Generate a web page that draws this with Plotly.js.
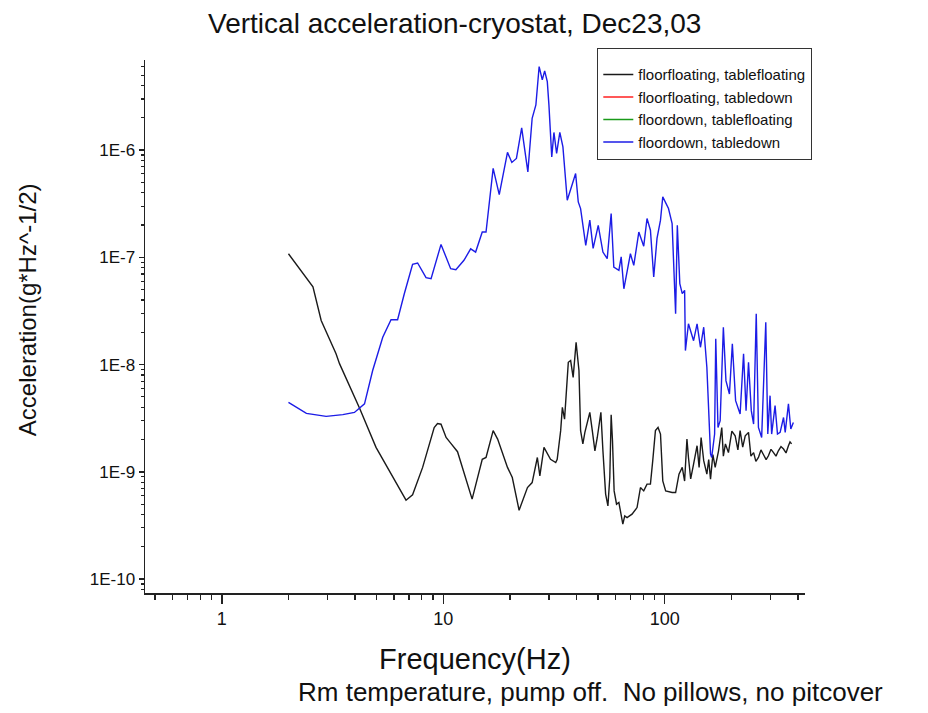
<!DOCTYPE html>
<html>
<head>
<meta charset="utf-8">
<script src="https://cdn.plot.ly/plotly-3.0.1.min.js"></script>
<style>html,body{margin:0;padding:0;background:#fff;}#chart{width:928px;height:713px;}</style>
</head>
<body>
<div id="chart"></div>
<script>
// Frequencies (Hz) and acceleration values
const freqFloatFloat = [2.0, 2.45, 2.58, 2.81, 3.28, 3.40, 4.19, 4.97, 5.91, 6.79, 7.27, 8.07, 9.10, 9.42, 9.77, 10.3, 10.8, 11.6, 13.5, 15.0, 15.6, 16.8, 17.6, 19.5, 20.5, 22.0, 24.0, 25.2, 26.6, 27.3, 28.5, 30.5, 32.2, 32.7, 33.9, 34.5, 35.3, 36.7, 37.6, 38.6, 39.8, 41.0, 41.7, 42.7, 43.6, 45.1, 45.9, 47.1, 48.4, 49.6, 51.5, 52.6, 54.1, 55.4, 56.5, 57.3, 58.1, 59.1, 60.6, 62.1, 63.4, 64.7, 66.0, 67.6, 71.2, 75.0, 77.7, 80.4, 83.2, 86.2, 88.3, 90.8, 93.3, 95.7, 98.0, 101, 108, 112, 116, 120, 123, 126, 128, 131, 135, 140, 143, 146, 150, 155, 158, 161, 165, 169, 175, 181, 184, 188, 194, 201, 208, 214, 219, 225, 231, 239, 245, 252, 258, 265, 272, 279, 287, 294, 302, 310, 318, 326, 335, 344, 353, 362, 368, 374];
const accFloatFloat = [1.08e-7, 6.2e-8, 5.3e-8, 2.58e-8, 1.26e-8, 1.02e-8, 3.92e-9, 1.69e-9, 8.85e-10, 5.44e-10, 6.1e-10, 1.10e-9, 2.59e-9, 2.82e-9, 2.78e-9, 2.09e-9, 1.85e-9, 1.54e-9, 5.56e-10, 1.31e-9, 1.36e-9, 2.42e-9, 2.02e-9, 1.10e-9, 8.85e-10, 4.38e-10, 7.13e-10, 7.94e-10, 1.36e-9, 9.18e-10, 1.69e-9, 1.31e-9, 1.22e-9, 1.31e-9, 2.42e-9, 3.99e-9, 3.10e-9, 1.05e-8, 1.09e-8, 7.6e-9, 1.61e-8, 8.8e-9, 2.42e-9, 1.82e-9, 2.33e-9, 3.21e-9, 3.58e-9, 2.42e-9, 1.57e-9, 2.09e-9, 3.58e-9, 1.57e-9, 6.2e-10, 4.81e-10, 8.85e-10, 3.41e-9, 1.95e-9, 6.64e-10, 4.99e-10, 5.17e-10, 4.17e-10, 3.25e-10, 3.88e-10, 3.74e-10, 4.03e-10, 4.64e-10, 7.13e-10, 6.64e-10, 7.67e-10, 7.67e-10, 1.27e-9, 2.42e-9, 2.59e-9, 2.25e-9, 8.24e-10, 6.64e-10, 6.41e-10, 6.41e-10, 9.5e-10, 1.10e-9, 8.2e-10, 2.02e-9, 1.36e-9, 8.6e-10, 1.18e-9, 1.75e-9, 1.10e-9, 2.09e-9, 1.27e-9, 9.5e-10, 1.3e-9, 8.55e-10, 1.45e-9, 1.10e-9, 1.57e-9, 2.59e-9, 1.4e-9, 1.82e-9, 1.51e-9, 2.4e-9, 2.17e-9, 1.6e-9, 2.42e-9, 1.7e-9, 2.17e-9, 2.33e-9, 1.4e-9, 1.51e-9, 1.25e-9, 1.36e-9, 1.6e-9, 1.47e-9, 1.3e-9, 1.41e-9, 1.62e-9, 1.51e-9, 1.4e-9, 1.57e-9, 1.72e-9, 1.63e-9, 1.5e-9, 1.75e-9, 1.9e-9, 1.82e-9];

// these two series have no visible marks in the picture (legend only)
const freqFloatDown = [null];
const accFloatDown = [null];
const freqDownFloat = [null];
const accDownFloat = [null];

const freqDownDown = [2.0, 2.41, 2.96, 3.52, 3.97, 4.41, 4.80, 5.33, 5.81, 6.22, 6.67, 7.27, 7.66, 8.36, 8.81, 9.77, 10.8, 11.4, 12.4, 13.3, 14.0, 15.0, 15.6, 16.2, 16.8, 17.9, 19.5, 20.4, 21.4, 22.6, 24.1, 25.2, 26.2, 27.1, 28.0, 28.7, 29.5, 30.0, 30.9, 31.6, 32.5, 33.6, 34.7, 36.3, 38.0, 39.6, 40.7, 41.7, 44.0, 45.9, 47.5, 50.1, 52.6, 55.0, 57.3, 58.9, 62.1, 63.6, 65.4, 67.6, 70.0, 72.5, 76.4, 80.4, 83.2, 86.2, 89.2, 92.3, 95.7, 98.0, 101, 104, 108, 112, 114, 117, 120, 123, 124, 128, 135, 140, 145, 150, 155, 161, 163, 168, 170, 174, 178, 184, 189, 196, 202, 209, 219, 227, 233, 239, 246, 252, 259, 265, 274, 286, 292, 299, 304, 315, 323, 332, 344, 350, 362, 371, 381];
const accDownDown = [4.45e-9, 3.51e-9, 3.29e-9, 3.41e-9, 3.58e-9, 4.30e-9, 8.8e-9, 1.80e-8, 2.62e-8, 2.62e-8, 4.58e-8, 8.61e-8, 8.85e-8, 6.46e-8, 6.32e-8, 1.32e-7, 7.83e-8, 7.67e-8, 9.38e-8, 1.20e-7, 1.12e-7, 1.72e-7, 1.72e-7, 3.29e-7, 6.75e-7, 3.85e-7, 9.52e-7, 7.67e-7, 8.36e-7, 1.61e-6, 6.27e-7, 1.98e-6, 2.64e-6, 6.01e-6, 4.51e-6, 5.47e-6, 4.35e-6, 2.64e-6, 8.65e-7, 1.46e-6, 9.31e-7, 1.46e-6, 1.07e-6, 3.41e-7, 4.54e-7, 6.05e-7, 3.29e-7, 2.85e-7, 1.29e-7, 2.22e-7, 1.21e-7, 1.99e-7, 1.12e-7, 9.72e-8, 2.56e-7, 8.11e-8, 7.57e-8, 1.01e-7, 5.09e-8, 7.30e-8, 1.08e-7, 8.41e-8, 1.72e-7, 1.27e-7, 2.30e-7, 1.79e-7, 6.55e-8, 1.50e-7, 2.22e-7, 3.66e-7, 3.18e-7, 2.85e-7, 2.06e-7, 2.98e-8, 1.99e-7, 5.67e-8, 4.58e-8, 4.92e-8, 1.35e-8, 2.40e-8, 1.67e-8, 2.40e-8, 1.45e-8, 2.23e-8, 9.44e-9, 1.47e-9, 1.36e-9, 2.25e-9, 1.74e-8, 2.59e-9, 3.0e-9, 2.23e-8, 7.08e-9, 5.32e-9, 1.56e-8, 4.61e-9, 3.46e-9, 1.26e-8, 3.72e-9, 1.05e-8, 3.72e-9, 2.79e-9, 2.98e-8, 2.59e-9, 2.09e-9, 2.48e-8, 2.25e-9, 5.13e-9, 2.25e-9, 4.14e-9, 2.25e-9, 2.33e-9, 3.21e-9, 2.33e-9, 4.30e-9, 2.51e-9, 2.89e-9];

const seriesNames = ["floorfloating, tablefloating", "floorfloating, tabledown", "floordown, tablefloating", "floordown, tabledown"];
const seriesColors = ["#1a1a1a", "#ff2020", "#1a9a1a", "#1c1ce6"];

const xMajorTicks = [1, 10, 100];
const xMajorLabels = ["1", "10", "100"];
const xMinorTicks = [0.5, 0.6, 0.7, 0.8, 0.9, 2, 3, 4, 5, 6, 7, 8, 9, 20, 30, 40, 50, 60, 70, 80, 90, 200, 300, 400];
const yMajorTicks = [1e-10, 1e-9, 1e-8, 1e-7, 1e-6];
const yMajorLabels = ["1E-10", "1E-9", "1E-8", "1E-7", "1E-6"];
const yMinorTicks = [];
[1e-11, 1e-10, 1e-9, 1e-8, 1e-7, 1e-6].forEach(d => { for (let k = 2; k <= 9; k++) yMinorTicks.push(k * d); });

const xs = [freqFloatFloat, freqFloatDown, freqDownFloat, freqDownDown];
const ys = [accFloatFloat, accFloatDown, accDownFloat, accDownDown];
const traces = seriesNames.map((n, i) => ({
  x: xs[i], y: ys[i], name: n, type: 'scatter', mode: 'lines',
  legendgroup: 'g' + i, showlegend: true,
  line: {color: seriesColors[i], width: 1.4}
}));

const FONT = 'Arial, "Liberation Sans", sans-serif';
const layout = {
  width: 928, height: 713,
  margin: {l: 145, r: 123, t: 60, b: 120},
  paper_bgcolor: '#fff', plot_bgcolor: '#fff',
  font: {family: FONT, color: '#111', size: 16},
  title: {text: 'Vertical acceleration-cryostat, Dec23,03', font: {size: 28, family: FONT, color: '#111'},
          x: 0.49, xanchor: 'center', y: 0.968, yanchor: 'middle'},
  showlegend: true,
  legend: {x: 0.685, y: 1.0225, xanchor: 'left', yanchor: 'top', bgcolor: '#fff',
           bordercolor: '#333', borderwidth: 1.2, font: {size: 15, family: FONT, color: '#111'},
           title: {text: ' ', font: {size: 7}},
           tracegroupgap: 6, traceorder: 'normal'},
  xaxis: {
    type: 'log', range: [Math.log10(0.45), Math.log10(430)],
    showline: true, linecolor: '#222', linewidth: 1.5, mirror: false,
    showgrid: false, zeroline: false,
    tickmode: 'array', tickvals: xMajorTicks, ticktext: xMajorLabels,
    ticks: 'outside', ticklen: 9, tickwidth: 1.5, tickcolor: '#222',
    tickfont: {size: 18, family: FONT},
    minor: {tickmode: 'array', tickvals: xMinorTicks, ticks: 'outside', ticklen: 5, tickwidth: 1.3, tickcolor: '#222', showgrid: false},
    title: {text: 'Frequency(Hz)', font: {size: 29, family: FONT}, standoff: 20}
  },
  yaxis: {
    type: 'log', range: [-10.13, -5.16],
    showline: true, linecolor: '#222', linewidth: 1.5, mirror: false,
    showgrid: false, zeroline: false,
    tickmode: 'array', tickvals: yMajorTicks, ticktext: yMajorLabels,
    ticks: 'outside', ticklen: 5, tickwidth: 1.5, tickcolor: '#222',
    tickfont: {size: 17, family: FONT},
    minor: {tickmode: 'array', tickvals: yMinorTicks, ticks: 'outside', ticklen: 3, tickwidth: 1.2, tickcolor: '#222', showgrid: false}
  },
  annotations: [{
    text: 'Acceleration(g*Hz^-1/2)', xref: 'paper', yref: 'paper', textangle: -90,
    x: -0.177, y: 0.531, xanchor: 'center', yanchor: 'middle', showarrow: false,
    font: {size: 24, family: FONT, color: '#111'}
  }, {
    text: 'Rm temperature, pump off.&nbsp; No pillows, no pitcover', xref: 'paper', yref: 'paper',
    x: 1.121, y: -0.186, xanchor: 'right', yanchor: 'middle', showarrow: false,
    font: {size: 26, family: FONT, color: '#111'}
  }]
};

Plotly.newPlot('chart', traces, layout, {displayModeBar: false, staticPlot: true});
</script>
</body>
</html>
